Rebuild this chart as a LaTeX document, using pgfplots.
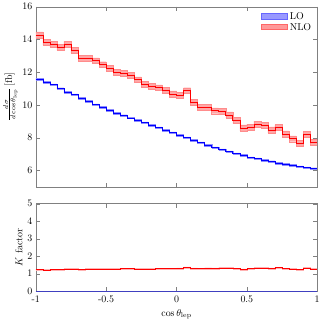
\documentclass[border=0pt]{standalone}
\usepackage{pgfplots}
\pgfplotsset{compat=1.18}
\usepackage{pgfplotstable}
\usepgfplotslibrary{fillbetween}
\usetikzlibrary{calc}
\pgfplotstableread{
x lo loe nlo nloe k ke
-1.00 11.58 0.05 14.28 0.18 1.233 0.03
-0.95 11.40 0.05 13.83 0.18 1.213 0.03
-0.90 11.24 0.05 13.71 0.18 1.220 0.03
-0.85 11.00 0.05 13.51 0.18 1.228 0.03
-0.80 10.79 0.05 13.71 0.18 1.271 0.03
-0.75 10.63 0.05 13.33 0.18 1.254 0.03
-0.70 10.43 0.05 12.86 0.18 1.233 0.03
-0.65 10.22 0.05 12.86 0.18 1.258 0.03
-0.60 10.02 0.05 12.70 0.18 1.267 0.03
-0.55 9.86 0.05 12.46 0.18 1.264 0.03
-0.50 9.66 0.05 12.25 0.18 1.268 0.03
-0.45 9.51 0.05 11.99 0.18 1.261 0.03
-0.40 9.35 0.05 11.95 0.18 1.278 0.03
-0.35 9.21 0.05 11.80 0.18 1.281 0.03
-0.30 9.05 0.05 11.54 0.18 1.275 0.03
-0.25 8.91 0.05 11.24 0.18 1.262 0.03
-0.20 8.75 0.05 11.14 0.18 1.273 0.03
-0.15 8.61 0.05 11.05 0.18 1.283 0.03
-0.10 8.47 0.05 10.90 0.18 1.287 0.03
-0.05 8.30 0.05 10.67 0.18 1.286 0.03
0.00 8.14 0.05 10.57 0.18 1.299 0.03
0.05 8.00 0.05 10.87 0.18 1.359 0.03
0.10 7.84 0.05 10.16 0.18 1.296 0.03
0.15 7.69 0.05 9.87 0.18 1.283 0.03
0.20 7.53 0.05 9.84 0.18 1.307 0.03
0.25 7.39 0.05 9.64 0.18 1.304 0.03
0.30 7.27 0.05 9.60 0.18 1.320 0.03
0.35 7.14 0.05 9.39 0.18 1.315 0.03
0.40 7.02 0.05 9.04 0.18 1.288 0.03
0.45 6.92 0.05 8.60 0.18 1.243 0.03
0.50 6.78 0.05 8.65 0.18 1.276 0.03
0.55 6.72 0.05 8.83 0.18 1.314 0.03
0.60 6.62 0.05 8.74 0.18 1.320 0.03
0.65 6.54 0.05 8.47 0.18 1.295 0.03
0.70 6.44 0.05 8.62 0.18 1.339 0.03
0.75 6.38 0.05 8.23 0.18 1.290 0.03
0.80 6.32 0.05 7.93 0.18 1.255 0.03
0.85 6.23 0.05 7.64 0.18 1.226 0.03
0.90 6.17 0.05 8.20 0.18 1.329 0.03
0.95 6.11 0.05 7.70 0.18 1.260 0.03
1.00 6.11 0.05 7.70 0.18 1.260 0.03
}\data
\definecolor{axgray}{RGB}{128,128,128}
\begin{document}
\begin{tikzpicture}
\pgfplotsset{
  every axis/.append style={
    scale only axis, width=283pt,
    xmin=-1, xmax=1,
    axis line style={axgray},
    tick style={axgray, major tick length=4pt},
    xtick={-1,-0.5,0,0.5,1},
    tick align=inside,
    xtick pos=both, ytick pos=both,
    tick label style={font=\normalsize},
    label style={font=\normalsize},
    ylabel style={yshift=-2pt},
  }
}
\begin{axis}[name=top, height=181pt,
  ymin=5, ymax=16, ytick={6,8,10,12,14,16},
  yticklabels={6,8,10,12,14,16},
  xticklabels={},
  ylabel={$\frac{d\sigma}{d\cos\theta_{\mathrm{lep}}}\,[\mathrm{fb}]$},
  legend style={draw=none, fill=none, at={(0.99,0.985)}, anchor=north east,
    font=\normalsize, row sep=-2pt, inner sep=1pt},
  legend cell align=left,
]
\addplot[name path=nloup, const plot, draw=red!45, line width=0.4pt, forget plot] table[x=x, y expr=\thisrow{nlo}+\thisrow{nloe}] {\data};
\addplot[name path=nlodn, const plot, draw=red!45, line width=0.4pt, forget plot] table[x=x, y expr=\thisrow{nlo}-\thisrow{nloe}] {\data};
\addplot[red!35, forget plot] fill between[of=nloup and nlodn];
\addplot[name path=loup, const plot, draw=blue!45, line width=0.3pt, forget plot] table[x=x, y expr=\thisrow{lo}+\thisrow{loe}] {\data};
\addplot[name path=lodn, const plot, draw=blue!45, line width=0.3pt, forget plot] table[x=x, y expr=\thisrow{lo}-\thisrow{loe}] {\data};
\addplot[blue!35, forget plot] fill between[of=loup and lodn];
\addplot[const plot, red, line width=0.6pt, forget plot] table[x=x, y=nlo] {\data};
\addplot[const plot, blue, line width=0.6pt, forget plot] table[x=x, y=lo] {\data};
\addlegendimage{legend image code/.code={\draw[fill=blue!40, draw=blue!60] (0cm,-0.08cm) rectangle (0.95cm,0.12cm);}}
\addlegendentry{LO}
\addlegendimage{legend image code/.code={\draw[fill=red!40, draw=red!60] (0cm,-0.08cm) rectangle (0.95cm,0.12cm);}}
\addlegendentry{NLO}
\end{axis}
\begin{axis}[at={($(top.south west)+(0,-17pt)$)}, anchor=north west, height=88pt,
  ymin=0, ymax=5, ytick={0,1,2,3,4,5},
  yticklabels={0,1,2,3,4,5},
  xticklabels={-1,-0.5,0,0.5,1},
  xticklabel style={yshift=-1pt},
  xlabel={$\cos\theta_{\mathrm{lep}}$},
  ylabel={$K$ factor},
]
\addplot[name path=kup, const plot, draw=red!30, line width=0.4pt] table[x=x, y expr=\thisrow{k}+\thisrow{ke}] {\data};
\addplot[name path=kdn, const plot, draw=red!30, line width=0.4pt] table[x=x, y expr=\thisrow{k}-\thisrow{ke}] {\data};
\addplot[red!25] fill between[of=kup and kdn];
\addplot[const plot, red, line width=0.6pt] table[x=x, y=k] {\data};
\addplot[blue!50!axgray, line width=0.8pt] coordinates {(-1,0) (1,0)};
\end{axis}
\end{tikzpicture}
\end{document}
